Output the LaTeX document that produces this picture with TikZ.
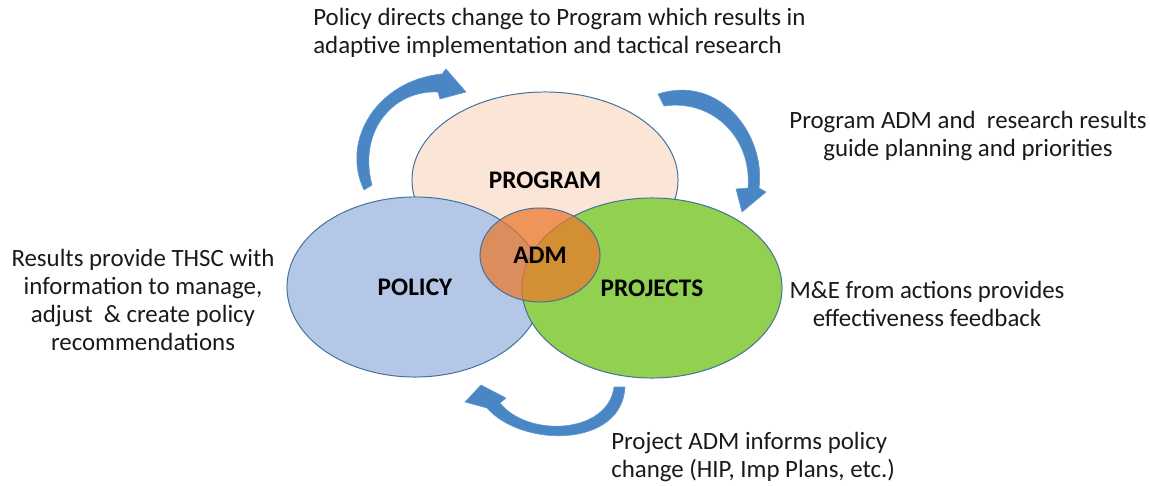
\documentclass[tikz,border=0pt]{standalone}
\usepackage{fontspec}
\setmainfont{Carlito}
\usetikzlibrary{shapes.geometric}
\definecolor{edgeblue}{HTML}{41719C}
\definecolor{programfill}{HTML}{FBE5D6}
\definecolor{policyfill}{HTML}{B4C7E7}
\definecolor{projectsfill}{HTML}{92D050}
\definecolor{admfill}{HTML}{EC772A}
\definecolor{arrowblue}{HTML}{4A86C4}
\definecolor{arrowedge}{HTML}{5B9BD5}
\definecolor{notegray}{HTML}{1A1A1A}

\begin{document}
\begin{tikzpicture}[x=0.025cm, y=-0.025cm,
    set/.style={ellipse, draw=edgeblue, line width=0.7pt, inner sep=0pt,
                font=\fontsize{18}{21}\selectfont\bfseries},
    note/.style={inner sep=0pt, text=notegray, align=center,
                 font=\fontsize{17.7}{19.9}\selectfont},
    bentarrow/.style={fill=arrowblue, draw=arrowedge, line width=0.4pt}
  ]
    \useasboundingbox (0,0) rectangle (1150,486);

    % the three sets and their overlap
    \node[set, fill=programfill, minimum width=6.65cm, minimum height=4.4cm]  (program)  at (545,180) {PROGRAM};
    \node[set, fill=policyfill, minimum width=6.4cm, minimum height=4.5cm]    (policy)   at (415,287) {POLICY};
    \node[set, fill=projectsfill, minimum width=6.5cm, minimum height=4.5cm]  (projects) at (652,288) {PROJECTS};
    \node[set, fill=admfill, fill opacity=0.72, text opacity=1,
          minimum width=3cm, minimum height=2.35cm]                          (adm)      at (540,255) {ADM};

    % curved arrows
    \draw[bentarrow] (364,190) .. controls (340,140) and (378,80) .. (442,74)
        -- (446,69) -- (466,92) -- (440,99) -- (438,92)
        .. controls (392,90) and (358,132) .. (372,185) -- cycle;
    \draw[bentarrow] (658,94) .. controls (720,74) and (766,135) .. (759,188)
        -- (766,192) -- (742,212) -- (736,189) -- (748,188)
        .. controls (752,137) and (712,99) .. (664,106) -- cycle;
    \draw[bentarrow] (625,387) .. controls (622,448) and (522,448) .. (487,408)
        -- (465,402) -- (481,385) -- (506,398) -- (500,403)
        .. controls (528,438) and (608,434) .. (614,387) -- cycle;

    % notes
    \node[note, anchor=west, align=left] (topnote) at (313,33)
        {Policy directs change to Program which results in\\adaptive implementation and tactical research};
    \node[note] (rightnote) at (968,136)
        {Program ADM and\ \ research results\\guide planning and priorities};
    \node[note] (leftnote) at (143,300)
        {Results provide THSC with\\information to manage,\\adjust\ \ \& create policy\\recommendations};
    \node[note] (menote) at (927,304)
        {M\&E from actions provides\\effectiveness feedback};
    \node[note, anchor=west, align=left] (bottomnote) at (611,457)
        {Project ADM informs policy\\change (HIP, Imp Plans, etc.)};
  \end{tikzpicture}
\end{document}
